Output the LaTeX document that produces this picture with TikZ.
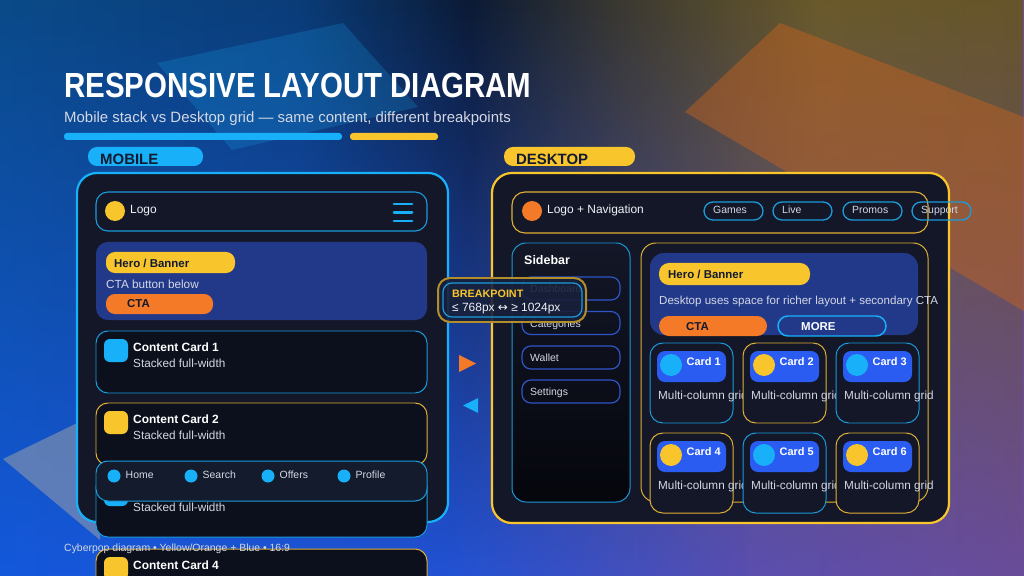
\documentclass[tikz,border=0pt]{standalone}
\usepackage{fontspec}
\setmainfont{Liberation Sans}
\newfontfamily\symfont{DejaVu Sans}
\usetikzlibrary{fadings}

\definecolor{hgA}{HTML}{0A4A88}
\definecolor{hgB}{HTML}{0A3C78}
\definecolor{hgC}{HTML}{0B1A34}
\definecolor{hgD}{HTML}{3A3830}
\definecolor{hgE}{HTML}{6A5A2A}
\definecolor{hgF}{HTML}{66552A}
\definecolor{huA}{HTML}{1458DC}
\definecolor{huB}{HTML}{2252D4}
\definecolor{huC}{HTML}{5A4EB0}
\definecolor{huD}{HTML}{6A4C9A}
\definecolor{cyanhell}{HTML}{18B0F8}
\definecolor{cyanrand}{HTML}{1A9BDC}
\definecolor{gelb}{HTML}{F8C52C}
\definecolor{gelbrand}{HTML}{E0B035}
\definecolor{ctaorange}{HTML}{F57A28}
\definecolor{panelbg}{HTML}{131727}
\definecolor{cardbg}{HTML}{0C101D}
\definecolor{navbg}{HTML}{141B2D}
\definecolor{sidebg}{HTML}{05060C}
\definecolor{herobg}{HTML}{22398A}
\definecolor{kartenblau}{HTML}{2A5CF2}
\definecolor{itemrand}{HTML}{2F54C8}
\definecolor{bpbg}{HTML}{18203A}
\definecolor{dunkel}{HTML}{111A30}
\definecolor{txtweiss}{HTML}{F0F2F8}
\definecolor{subtxt}{HTML}{D4D8E4}

\pgfdeclarehorizontalshading{bgtop}{100bp}{color(0bp)=(hgA); color(25bp)=(hgA); color(39.6bp)=(hgB); color(48bp)=(hgC); color(55.3bp)=(hgD); color(65bp)=(hgE); color(75bp)=(hgF); color(100bp)=(hgF)}
\pgfdeclarehorizontalshading{bgbottom}{100bp}{color(0bp)=(huA); color(25bp)=(huA); color(47bp)=(huB); color(61.6bp)=(huC); color(75bp)=(huD); color(100bp)=(huD)}
\tikzfading[name=fadedown, top color=transparent!0, middle color=transparent!75, bottom color=transparent!100]

\newcommand{\pxfont}[1]{\fontsize{#1}{#1}\selectfont}

\begin{document}
\begin{tikzpicture}[x=1bp, y=-1bp,
  txt/.style={anchor=base west, inner sep=0pt, text=txtweiss}]

\useasboundingbox (0,0) rectangle (1024,576);
\clip (0,0) rectangle (1024,576);

% Hintergrund
\shade[shading=bgbottom] (0,0) rectangle (1024,576);
\shade[shading=bgtop, path fading=fadedown] (0,0) rectangle (1024,576);

% Deko-Flaechen
\fill[cyanhell, opacity=0.2] (343,23) -- (418,107) -- (232,150) -- (157,63) -- cycle;
\fill[ctaorange!80!black, opacity=0.48] (780,23) -- (1200,185) -- (1090,350) -- (685,112) -- cycle;
\fill[gray!70!white, opacity=0.5] (3,459) -- (100,412) -- (100,540) -- cycle;

% Titel
\node[anchor=base west, inner sep=0pt, text=white, font=\pxfont{35}\bfseries] (titel) at (64,98)
  {\scalebox{0.845}[1]{RESPONSIVE LAYOUT DIAGRAM}};
\node[txt, font=\pxfont{15}, text=subtxt] (untertitel) at (64,123)
  {Mobile stack vs Desktop grid — same content, different breakpoints};
\fill[cyanhell, rounded corners=3] (64,133) rectangle (342,140);
\fill[gelb, rounded corners=3] (350,133) rectangle (438,140);

% Mobile
\fill[cyanhell, rounded corners=9] (88,147) rectangle (203,166);
\node[txt, font=\pxfont{15}\bfseries, text=dunkel] (mobiletag) at (100,164.4) {MOBILE};
\draw[cyanhell, line width=2.2, fill=panelbg, rounded corners=20] (77,173) rectangle (448,522);

\draw[cyanrand, line width=1.1, fill=panelbg, rounded corners=12] (96,192) rectangle (427,231);
\fill[gelb] (115,211) circle (10bp);
\node[txt, font=\pxfont{12}] (mlogo) at (130,213.8) {Logo};
\draw[cyanhell, line width=3, line cap=round] (394,204) -- (412,204) (394,212.5) -- (412,212.5) (394,221) -- (412,221);

\fill[herobg, rounded corners=12] (96,242) rectangle (427,320);
\fill[gelb, rounded corners=9] (106,252) rectangle (235,273);
\node[txt, font=\pxfont{11.5}\bfseries, text=dunkel] (mherotag) at (114,267.1) {Hero / Banner};
\node[txt, font=\pxfont{11.8}, text=subtxt] (mherotext) at (106,288.2) {CTA button below};
\fill[ctaorange, rounded corners=9] (106,294) rectangle (213,314);
\node[txt, font=\pxfont{11.5}\bfseries, text=dunkel] (mcta) at (127,307.6) {CTA};

\foreach \i/\y/\rand/\icon in {1/331/cyanrand/cyanhell, 2/403/gelbrand/gelb, 3/475/cyanrand/cyanhell, 4/549/gelbrand/gelb} {
  \draw[\rand, line width=1, fill=cardbg, rounded corners=12] (96,\y) rectangle (427,\y+62);
  \fill[\icon, rounded corners=6] (104,\y+8) rectangle (128,\y+31);
  \node[txt, font=\pxfont{12}\bfseries, text=white] (mkarte\i) at (133,\y+20.3) {Content Card \i};
  \ifnum\i<4
    \node[txt, font=\pxfont{11.8}, text=subtxt] (mkartesub\i) at (133,\y+36.2) {Stacked full-width};
  \fi
}

\draw[cyanrand, line width=1, fill=navbg, rounded corners=12] (96,461) rectangle (427,501);
\foreach \x/\name [count=\n] in {114/Home, 191/Search, 268/Offers, 344/Profile} {
  \fill[cyanhell] (\x,476) circle (6.5bp);
  \node[txt, font=\pxfont{10.5}, text=subtxt] (mnav\n) at (\x+11.5,478.3) {\name};
}

% Desktop
\fill[gelb, rounded corners=9] (504,147) rectangle (635,166);
\node[txt, font=\pxfont{15}\bfseries, text=dunkel] (desktoptag) at (516,164.4) {DESKTOP};
\draw[gelb, line width=2.2, fill=panelbg, rounded corners=20] (492,173) rectangle (949,523);

\draw[gelbrand, line width=1.1, fill=panelbg, rounded corners=13] (512,192) rectangle (928,233);
\fill[ctaorange] (532,211) circle (10bp);
\node[txt, font=\pxfont{12}] (dlogo) at (547,213.8) {Logo + Navigation};
\foreach \x/\name [count=\n] in {704/Games, 773/Live, 843/Promos, 912/Support} {
  \draw[cyanrand, line width=1.3, rounded corners=9] (\x,202) rectangle (\x+59,220);
  \node[txt, font=\pxfont{10.5}, text=subtxt] (dpill\n) at (\x+9,213.8) {\name};
}

\draw[cyanrand, line width=1, rounded corners=14, top color=panelbg, bottom color=sidebg] (512,243) rectangle (630,502);
\node[txt, font=\pxfont{12.5}\bfseries, text=white] (sidebar) at (524,264.5) {Sidebar};
\foreach \y/\name [count=\n] in {277/Dashboard, 311.5/Categories, 346/Wallet, 380/Settings} {
  \draw[itemrand, line width=1.2, rounded corners=9] (522,\y) rectangle (620,\y+23);
  \node[txt, font=\pxfont{10.5}, text=subtxt] (ditem\n) at (530,\y+15.8) {\name};
}

\draw[gelbrand, line width=1, rounded corners=15] (641,243) rectangle (928,502);
\fill[herobg, rounded corners=14] (650,253) rectangle (918,335);
\fill[gelb, rounded corners=10] (659,263) rectangle (810,285);
\node[txt, font=\pxfont{11.5}\bfseries, text=dunkel] (dherotag) at (668,278.1) {Hero / Banner};
\node[txt, font=\pxfont{11.6}, text=subtxt] (dherotext) at (659,304.8) {Desktop uses space for richer layout + secondary CTA};
\fill[ctaorange, rounded corners=10] (659,316) rectangle (767,336);
\node[txt, font=\pxfont{11.5}\bfseries, text=dunkel] (dcta) at (686,330.1) {CTA};
\draw[cyanhell, line width=1.5, fill=herobg, rounded corners=10] (778,316) rectangle (886,336);
\node[txt, font=\pxfont{11.5}\bfseries, text=white] (dmore) at (801,330.1) {MORE};

\foreach \i/\x/\y/\rand/\punkt in {1/650/343/cyanrand/cyanhell, 2/743/343/gelbrand/gelb, 3/836/343/cyanrand/cyanhell,
    4/650/433/gelbrand/gelb, 5/743/433/cyanrand/cyanhell, 6/836/433/gelbrand/gelb} {
  \draw[\rand, line width=1, fill=panelbg, rounded corners=13] (\x,\y) rectangle (\x+83,\y+80);
  \fill[kartenblau, rounded corners=8] (\x+7,\y+8) rectangle (\x+76,\y+39);
  \fill[\punkt] (\x+21,\y+22) circle (11bp);
  \node[anchor=base east, inner sep=0pt, font=\pxfont{11}\bfseries, text=white] (dkarte\i) at (\x+71,\y+22) {Card \i};
  \node[txt, font=\pxfont{11.8}, text=subtxt] (dkartesub\i) at (\x+8,\y+56.2) {Multi-column grid};
}

% Pfeile
\fill[ctaorange] (459,355) -- (476,363.5) -- (459,372) -- cycle;
\fill[cyanhell] (478,398) -- (463,405.5) -- (478,413) -- cycle;

% Breakpoint
\draw[gelbrand!80!black, line width=2, fill=bpbg, fill opacity=0.9, rounded corners=12] (438,278) rectangle (586,322);
\draw[cyanrand, line width=1.2, rounded corners=9] (443,283) rectangle (582,317);
\node[txt, font=\pxfont{10.8}\bfseries, text=gelb] (bptitel) at (452,297.9) {BREAKPOINT};
\node[txt, font=\pxfont{12}] (bpwert) at (452,311.8) {≤ 768px {\symfont ↔} ≥ 1024px};

% Fusszeile
\node[txt, font=\pxfont{10.5}, text=subtxt] (fusszeile) at (64,551.3) {Cyberpop diagram • Yellow/Orange + Blue • 16:9};

\end{tikzpicture}
\end{document}
